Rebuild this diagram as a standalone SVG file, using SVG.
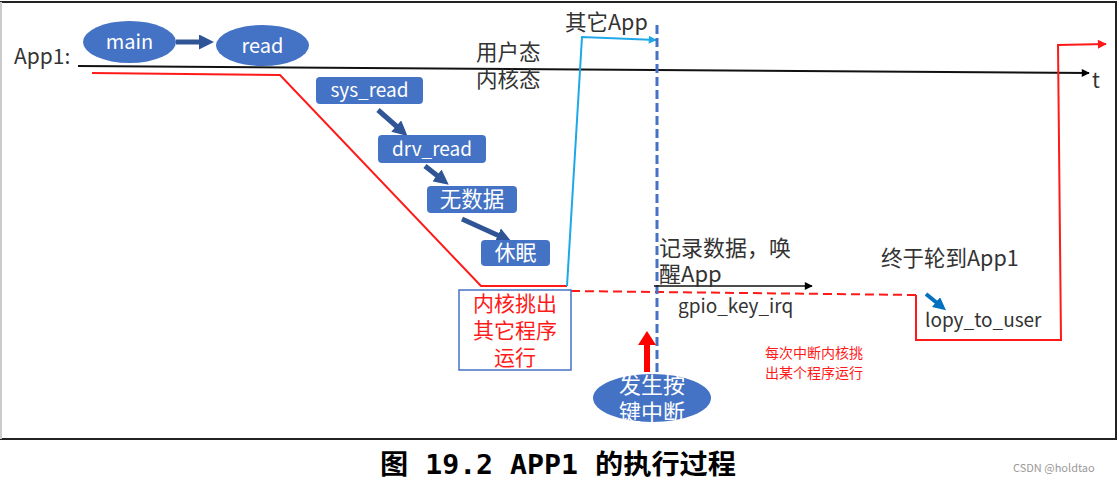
<svg xmlns="http://www.w3.org/2000/svg" width="1119" height="483" viewBox="0 0 1119 483">
<style>
text{font-family:"Noto Sans CJK SC","Noto Sans",sans-serif;}
.lbl{font-size:19px;fill:#333333;}
.cj{font-size:21.5px;fill:#333333;}
.wt{font-size:19px;fill:#ffffff;text-anchor:middle;}
.box{fill:#4472C4;}
.flow{stroke:#2F5597;stroke-width:5;fill:none;marker-end:url(#bh);}
.red{stroke:#FF1A1A;stroke-width:2;fill:none;}
.rtx{fill:#FF1A1A;}
</style>
<defs>
<marker id="bh" viewBox="0 0 10 10" refX="6" refY="5" markerWidth="3" markerHeight="3" orient="auto" markerUnits="strokeWidth"><path d="M0,0L10,5L0,10z" fill="#2F5597"/></marker>
<marker id="kh" viewBox="0 0 10 10" refX="9" refY="5" markerWidth="10" markerHeight="8" orient="auto" markerUnits="userSpaceOnUse"><path d="M0,0L10,5L0,10z" fill="#000"/></marker>
<marker id="ch" viewBox="0 0 10 10" refX="9" refY="5" markerWidth="10" markerHeight="8" orient="auto" markerUnits="userSpaceOnUse"><path d="M0,0L10,5L0,10z" fill="#1FA8E8"/></marker>
<marker id="rh" viewBox="0 0 10 10" refX="9" refY="5" markerWidth="11" markerHeight="9" orient="auto" markerUnits="userSpaceOnUse"><path d="M0,0L10,5L0,10z" fill="#FF1A1A"/></marker>
<marker id="uh" viewBox="0 0 10 10" refX="6" refY="5" markerWidth="3.2" markerHeight="3.2" orient="auto" markerUnits="strokeWidth"><path d="M0,0L10,5L0,10z" fill="#0070C0"/></marker>
</defs>
<rect x="0" y="0" width="1119" height="483" fill="#fff"/>
<rect id="frame" x="1" y="2" width="1115" height="437" fill="none" stroke="#222" stroke-width="2"/>
<line x1="1" y1="2" x2="1" y2="439" stroke="#ccc" stroke-width="2"/>

<text class="lbl" x="14" y="64" style="font-size:21px">App1:</text>
<text class="lbl" x="1092" y="88" style="font-size:21px">t</text>

<g id="connectors">
<line x1="78" y1="66" x2="1089" y2="73" stroke="#111" stroke-width="2" marker-end="url(#kh)"/>
<line x1="176" y1="42" x2="208" y2="42" class="flow"/>
<line x1="378" y1="110" x2="403" y2="132" class="flow"/>
<line x1="425" y1="166" x2="444" y2="181" class="flow"/>
<line x1="462" y1="219" x2="506" y2="239" class="flow"/>
<polyline class="red" points="92,73 280,75 481,286 567,286"/>
<polyline points="567,286 582,37 656,40" fill="none" stroke="#1FA8E8" stroke-width="2" marker-end="url(#ch)"/>
<line x1="571" y1="291" x2="916" y2="295" stroke="#FF1A1A" stroke-width="2" stroke-dasharray="9,5"/>
<polyline class="red" points="916,295 916,340 1061,340 1058,45 1106,44" marker-end="url(#rh)"/>
<line x1="657" y1="25" x2="657" y2="375" stroke="#4472C4" stroke-width="3" stroke-dasharray="9,4"/>
<line x1="654" y1="286" x2="812" y2="286" stroke="#111" stroke-width="1.5" marker-end="url(#kh)"/>
<line x1="647" y1="372" x2="647" y2="342" stroke="#FF0000" stroke-width="6"/>
<path d="M638,345 L647,331 L656,345z" fill="#FF0000"/>
<line x1="926" y1="294" x2="942" y2="307" stroke="#0070C0" stroke-width="4" marker-end="url(#uh)"/>
</g>

<g id="node-main"><ellipse class="box" cx="129.5" cy="42" rx="46.5" ry="21"/><text class="wt" x="129.5" y="49" style="font-size:20px">main</text></g>
<g id="node-read"><ellipse class="box" cx="262.5" cy="45.5" rx="46.5" ry="20.5"/><text class="wt" x="262.5" y="53" style="font-size:20px">read</text></g>
<g id="node-sys_read"><rect class="box" x="316" y="77" width="107" height="27" rx="4"/><text class="wt" x="369.5" y="97">sys_read</text></g>
<g id="node-drv_read"><rect class="box" x="378" y="135" width="108" height="28" rx="4"/><text class="wt" x="432" y="156">drv_read</text></g>
<g id="node-nodata"><rect class="box" x="427" y="186" width="90" height="27" rx="4"/><text class="wt" x="472" y="207" style="font-size:21.5px">无数据</text></g>
<g id="node-sleep"><rect class="box" x="481" y="240" width="69" height="26" rx="4"/><text class="wt" x="515.5" y="260" style="font-size:21px">休眠</text></g>

<g id="label-states"><text class="cj" x="476" y="60">用户态<tspan x="476" y="87">内核态</tspan></text></g>
<g id="label-otherapp"><text class="cj" x="565" y="30">其它App</text></g>

<g id="node-kernel-pick"><rect x="459" y="290" width="112" height="80" fill="#fff" stroke="#4472C4" stroke-width="1.5"/>
<text class="rtx" x="515" y="311" text-anchor="middle" style="font-size:21px">内核挑出<tspan x="515" y="338">其它程序</tspan><tspan x="515" y="365">运行</tspan></text></g>

<g id="label-record"><text class="cj" x="659" y="256" style="font-size:22px">记录数据，唤<tspan x="659" y="282">醒App</tspan></text></g>
<g id="label-gpio"><text class="lbl" x="678" y="313">gpio_key_irq</text></g>

<g id="node-keyirq"><ellipse class="box" cx="652" cy="398" rx="59" ry="24"/>
<text class="wt" x="652" y="393" style="font-size:22px">发生按<tspan x="652" y="420">键中断</tspan></text></g>

<g id="label-note"><text class="rtx" x="765" y="358" style="font-size:14px">每次中断内核挑<tspan x="765" y="378">出某个程序运行</tspan></text></g>

<g id="label-final"><text class="cj" x="881" y="266">终于轮到App1</text></g>
<g id="node-copy"><text class="lbl" x="925" y="327">lopy_to_user</text></g>

<text x="380" y="474" textLength="356" lengthAdjust="spacingAndGlyphs" style="font-family:'DejaVu Sans Mono','Noto Sans CJK SC',monospace;font-size:27px;font-weight:bold;fill:#000">图 19.2 APP1 的执行过程</text>
<text x="1013" y="472" style="font-size:11px;fill:#999">CSDN @holdtao</text>
</svg>
